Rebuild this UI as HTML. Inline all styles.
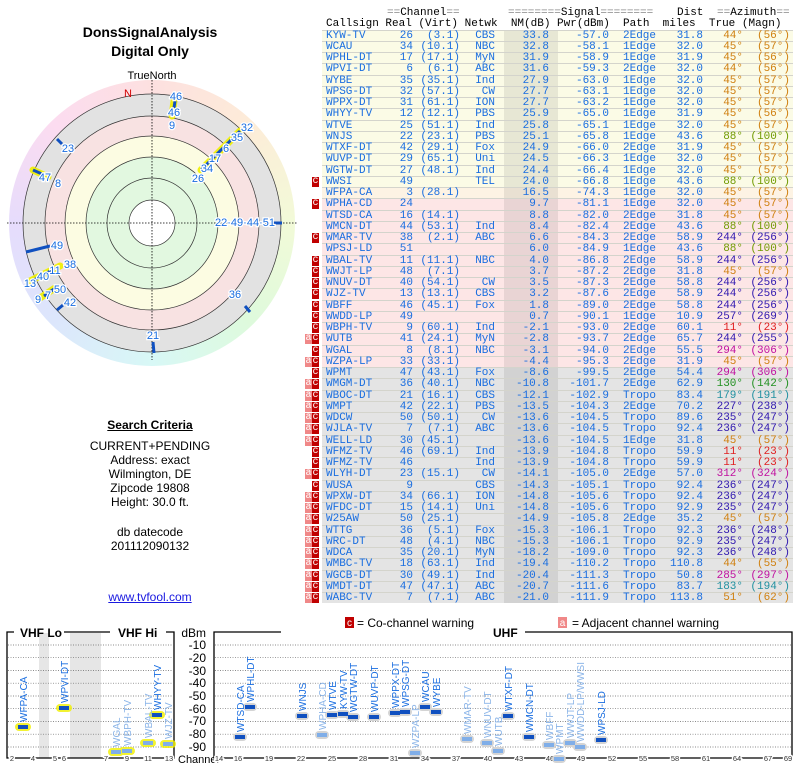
<!DOCTYPE html>
<html><head><meta charset="utf-8"><style>
body{margin:0;width:800px;height:768px;position:relative;background:#fff;overflow:hidden;font-family:"Liberation Sans",sans-serif}
.t{position:absolute;font:11px/11.25px "Liberation Mono",monospace;white-space:pre}
.r{position:absolute;left:322px;width:471px;height:11.25px;font:11px/11.25px "Liberation Mono",monospace;color:#1a6ee0;border-top:1px solid #d4d4cc;box-sizing:border-box}
.r span{position:absolute;top:0;white-space:pre}
.Y{background:#fbfbe6}.P{background:#fde6e6}.G{background:#e4e4e4}
.nmb{left:182px;width:54px;height:100%;background:rgba(0,0,0,0.08)}
.cs{left:4px}.re{left:51px;width:40px;text-align:right}.vi{left:98px;width:40px;text-align:right}
.nw{left:138px;width:35px;text-align:right}.nm{left:187px;width:40px;text-align:right}
.pw{left:237px;width:50px;text-align:right}.pa{left:301px}.di{left:336px;width:45px;text-align:right}
.tr{left:386px;width:35px;text-align:right}.mg{left:421px;width:47px;text-align:right}
.C{left:-10px;width:7px;height:10px;background:#c00000;color:#fff;text-align:center;font-size:10px;line-height:10px}
.A{left:-17px;width:7px;height:10px;background:#f08888;color:#fff;text-align:center;font-size:10px;line-height:10px}
.o{color:#d08010}.g{color:#709a00}.b{color:#3018b0}.rd{color:#e02020}.m{color:#c010a0}.gr{color:#209020}.tl{color:#2090a0}.pu{color:#8020c0}
.lt{position:absolute;width:300px;left:0;text-align:center;font-size:12px;color:#000}
</style></head><body>
<div style="position:absolute;left:9px;top:80px;width:286px;height:286px;border-radius:50%;background:conic-gradient(#fde0e0,#fdecd8 45deg,#f2fad8 90deg,#defadc 135deg,#d8f8f6 180deg,#dce6fc 225deg,#e6dcfc 270deg,#fcdcf0 315deg,#fde0e0)"></div>
<svg style="position:absolute;left:0;top:0" width="800" height="768" font-family="Liberation Sans, sans-serif">
<g stroke="#333" stroke-width="0.7">
<circle cx="152" cy="223" r="129" fill="#e2e2e2"/>
<circle cx="152" cy="223" r="107" fill="#f8e2e2"/>
<circle cx="152" cy="223" r="87" fill="#fcfce2"/>
<circle cx="152" cy="223" r="66" fill="#e2f8e0"/>
<circle cx="152" cy="223" r="45" fill="#e2f8e0"/>
<circle cx="152" cy="223" r="23" fill="#fff"/>
</g>
<g stroke="#000" stroke-width="0.8" stroke-dasharray="1.5,1.5">
<line x1="7" y1="223" x2="297" y2="223"/><line x1="152" y1="80" x2="152" y2="360"/>
</g>
<text x="152" y="79" font-size="11" text-anchor="middle">TrueNorth</text>
<text x="128" y="97" font-size="11" fill="#d00000" text-anchor="middle">N</text>
<g stroke="#f0f000" stroke-width="7" stroke-linecap="round" opacity="0.9">
<line x1="201" y1="170" x2="240" y2="131"/><line x1="174" y1="101" x2="172" y2="116"/>
<line x1="33" y1="170" x2="48" y2="177"/><line x1="30" y1="281" x2="60" y2="266"/><line x1="40" y1="298" x2="55" y2="288"/>
</g>
<g stroke="#1050c0" stroke-width="3">
<line x1="201" y1="170" x2="240" y2="131"/><line x1="175" y1="101" x2="174" y2="108"/><line x1="172" y1="112" x2="171" y2="116"/>
<line x1="57" y1="139" x2="62" y2="144"/><line x1="33" y1="170" x2="42" y2="174"/><line x1="26" y1="252" x2="50" y2="246"/>
<line x1="245" y1="306" x2="250" y2="312"/><line x1="153" y1="342" x2="154" y2="353"/><line x1="272" y1="223" x2="282" y2="223"/>
<line x1="57" y1="310" x2="63" y2="305"/><line x1="34" y1="280" x2="58" y2="267"/><line x1="44" y1="296" x2="54" y2="289"/>
</g>
<g font-size="11" fill="#1a6ee0" text-anchor="middle" stroke="#fff" stroke-width="2.5" paint-order="stroke">
<text x="176" y="100">46</text><text x="174" y="116">46</text><text x="172" y="129">9</text>
<text x="247" y="131">32</text><text x="237" y="141">35</text><text x="226" y="152">6</text><text x="215" y="162">17</text>
<text x="207" y="172">34</text><text x="198" y="182">26</text><text x="68" y="152">23</text><text x="45" y="181">47</text>
<text x="58" y="187">8</text><text x="245" y="226">22·49·44·51</text><text x="57" y="249">49</text><text x="70" y="268">38</text>
<text x="55" y="274">11</text><text x="43" y="280">40</text><text x="30" y="287">13</text><text x="60" y="293">50</text>
<text x="48" y="299">7</text><text x="38" y="303">9</text><text x="70" y="306">42</text><text x="235" y="298">36</text><text x="153" y="339">21</text>
</g>
<!-- bottom legend -->
<rect x="345" y="617" width="9" height="11" fill="#c00000"/><text x="349.5" y="626" font-size="10" fill="#fff" text-anchor="middle">c</text>
<text x="357" y="627" font-size="12">= Co-channel warning</text>
<rect x="558" y="617" width="9" height="11" fill="#f08888"/><text x="562.5" y="626" font-size="10" fill="#fff" text-anchor="middle">a</text>
<text x="572" y="627" font-size="12">= Adjacent channel warning</text>
<!-- VHF box -->
<rect x="39" y="633" width="10" height="125" fill="#e6e6e6"/><rect x="70" y="633" width="31" height="125" fill="#e6e6e6"/>
<g stroke="#666" stroke-width="0.7" stroke-dasharray="1,1.5">
<line x1="8" x2="173" y1="645" y2="645"/><line x1="8" x2="173" y1="657.7" y2="657.7"/><line x1="8" x2="173" y1="670.5" y2="670.5"/><line x1="8" x2="173" y1="683.2" y2="683.2"/><line x1="8" x2="173" y1="696" y2="696"/><line x1="8" x2="173" y1="708.7" y2="708.7"/><line x1="8" x2="173" y1="721.5" y2="721.5"/><line x1="8" x2="173" y1="734.2" y2="734.2"/><line x1="8" x2="173" y1="747" y2="747"/>
<line x1="215" x2="791" y1="645" y2="645"/><line x1="215" x2="791" y1="657.7" y2="657.7"/><line x1="215" x2="791" y1="670.5" y2="670.5"/><line x1="215" x2="791" y1="683.2" y2="683.2"/><line x1="215" x2="791" y1="696" y2="696"/><line x1="215" x2="791" y1="708.7" y2="708.7"/><line x1="215" x2="791" y1="721.5" y2="721.5"/><line x1="215" x2="791" y1="734.2" y2="734.2"/><line x1="215" x2="791" y1="747" y2="747"/>
</g>
<g fill="none" stroke="#000" stroke-width="1.3">
<polyline points="14,632 7,632 7,758 174,758 174,632 166,632"/><line x1="64" y1="632" x2="110" y2="632"/>
<polyline points="281,632 214,632 214,758 792,758 792,632 525,632"/>
</g>
<text x="20" y="637" font-size="12" font-weight="bold">VHF Lo</text><text x="118" y="637" font-size="12" font-weight="bold">VHF Hi</text>
<text x="493" y="637" font-size="12" font-weight="bold">UHF</text>
<g font-size="12" text-anchor="end"><text x="206" y="637">dBm</text><text x="206" y="649">-10</text><text x="206" y="662">-20</text><text x="206" y="675">-30</text><text x="206" y="687">-40</text><text x="206" y="700">-50</text><text x="206" y="713">-60</text><text x="206" y="725">-70</text><text x="206" y="738">-80</text><text x="206" y="751">-90</text></g>
<text x="178" y="763" font-size="11">Channel</text>
<g font-size="7.5" fill="#333" text-anchor="middle" stroke="#fff" stroke-width="3" paint-order="stroke">
<text x="12" y="761">2</text><text x="33" y="761">4</text><text x="55" y="761">5</text><text x="64" y="761">6</text><text x="106" y="761">7</text><text x="127" y="761">9</text><text x="148" y="761">11</text><text x="169" y="761">13</text>
<text x="219" y="761">14</text><text x="238" y="761">16</text><text x="269" y="761">19</text><text x="301" y="761">22</text><text x="332" y="761">25</text><text x="363" y="761">28</text><text x="394" y="761">31</text><text x="425" y="761">34</text><text x="456" y="761">37</text><text x="488" y="761">40</text><text x="519" y="761">43</text><text x="550" y="761">46</text><text x="581" y="761">49</text><text x="612" y="761">52</text><text x="643" y="761">55</text><text x="675" y="761">58</text><text x="706" y="761">61</text><text x="737" y="761">64</text><text x="768" y="761">67</text><text x="788" y="761">69</text>
</g>
<!-- VHF bars -->
<g stroke="#f0f000" stroke-width="8" stroke-linecap="round" opacity="0.8">
<line x1="19" x2="27" y1="727" y2="727"/><line x1="60" x2="68" y1="708" y2="708"/><line x1="112" x2="120" y1="752" y2="752"/><line x1="123" x2="131" y1="751" y2="751"/><line x1="144" x2="152" y1="743" y2="743"/><line x1="153" x2="161" y1="715" y2="715"/><line x1="164" x2="172" y1="744" y2="744"/>
</g>
<g stroke-width="4">
<line x1="18" x2="28" y1="727" y2="727" stroke="#1050c0"/><line x1="59" x2="69" y1="708" y2="708" stroke="#1050c0"/><line x1="111" x2="121" y1="752" y2="752" stroke="#80aee8"/><line x1="122" x2="132" y1="751" y2="751" stroke="#80aee8"/><line x1="143" x2="153" y1="743" y2="743" stroke="#80aee8"/><line x1="152" x2="162" y1="715" y2="715" stroke="#1050c0"/><line x1="163" x2="173" y1="744" y2="744" stroke="#80aee8"/>
</g>
<g font-size="10">
<text transform="translate(27,722) rotate(-90)" fill="#1a6ee0">WFPA-CA</text>
<text transform="translate(68,703) rotate(-90)" fill="#1a6ee0">WPVI-DT</text>
<text transform="translate(120,747) rotate(-90)" fill="#8ab4e8">WGAL</text>
<text transform="translate(131,746) rotate(-90)" fill="#8ab4e8">WBPH-TV</text>
<text transform="translate(152,738) rotate(-90)" fill="#8ab4e8">WBAL-TV</text>
<text transform="translate(161,710) rotate(-90)" fill="#1a6ee0">WHYY-TV</text>
<text transform="translate(172,739) rotate(-90)" fill="#8ab4e8">WJZ-TV</text>
</g>
<!-- UHF bars -->
<g stroke="#d4d4d4" stroke-width="8" stroke-linecap="round">
<line x1="237" x2="243" y1="737" y2="737"/><line x1="247" x2="253" y1="707" y2="707"/><line x1="299" x2="305" y1="716" y2="716"/><line x1="319" x2="325" y1="735" y2="735"/><line x1="329" x2="335" y1="715" y2="715"/><line x1="340" x2="346" y1="714" y2="714"/><line x1="350" x2="356" y1="717" y2="717"/><line x1="371" x2="377" y1="717" y2="717"/><line x1="392" x2="398" y1="713" y2="713"/><line x1="402" x2="408" y1="712" y2="712"/><line x1="412" x2="418" y1="753" y2="753"/><line x1="422" x2="428" y1="707" y2="707"/><line x1="433" x2="439" y1="712" y2="712"/><line x1="464" x2="470" y1="739" y2="739"/><line x1="484" x2="490" y1="743" y2="743"/><line x1="495" x2="501" y1="751" y2="751"/><line x1="505" x2="511" y1="716" y2="716"/><line x1="526" x2="532" y1="737" y2="737"/><line x1="546" x2="552" y1="745" y2="745"/><line x1="556" x2="562" y1="759" y2="759"/><line x1="567" x2="573" y1="743" y2="743"/><line x1="577" x2="583" y1="747" y2="747"/><line x1="598" x2="604" y1="740" y2="740"/>
</g>
<g stroke-width="4">
<g stroke="#1050c0"><line x1="235" x2="245" y1="737" y2="737"/><line x1="245" x2="255" y1="707" y2="707"/><line x1="297" x2="307" y1="716" y2="716"/><line x1="327" x2="337" y1="715" y2="715"/><line x1="338" x2="348" y1="714" y2="714"/><line x1="348" x2="358" y1="717" y2="717"/><line x1="369" x2="379" y1="717" y2="717"/><line x1="390" x2="400" y1="713" y2="713"/><line x1="400" x2="410" y1="712" y2="712"/><line x1="420" x2="430" y1="707" y2="707"/><line x1="431" x2="441" y1="712" y2="712"/><line x1="503" x2="513" y1="716" y2="716"/><line x1="524" x2="534" y1="737" y2="737"/><line x1="596" x2="606" y1="740" y2="740"/></g>
<g stroke="#80aee8"><line x1="317" x2="327" y1="735" y2="735"/><line x1="410" x2="420" y1="753" y2="753"/><line x1="462" x2="472" y1="739" y2="739"/><line x1="482" x2="492" y1="743" y2="743"/><line x1="493" x2="503" y1="751" y2="751"/><line x1="544" x2="554" y1="745" y2="745"/><line x1="554" x2="564" y1="759" y2="759"/><line x1="565" x2="575" y1="743" y2="743"/><line x1="575" x2="585" y1="747" y2="747"/></g>
</g>
<g font-size="10" fill="#1a6ee0">
<text transform="translate(244,732) rotate(-90)">WTSD-CA</text>
<text transform="translate(254,702) rotate(-90)">WPHL-DT</text>
<text transform="translate(306,711) rotate(-90)">WNJS</text>
<text transform="translate(336,710) rotate(-90)">WTVE</text>
<text transform="translate(347,709) rotate(-90)">KYW-TV</text>
<text transform="translate(357,712) rotate(-90)">WGTW-DT</text>
<text transform="translate(378,712) rotate(-90)">WUVP-DT</text>
<text transform="translate(399,708) rotate(-90)">WPPX-DT</text>
<text transform="translate(409,707) rotate(-90)">WPSG-DT</text>
<text transform="translate(429,702) rotate(-90)">WCAU</text>
<text transform="translate(440,707) rotate(-90)">WYBE</text>
<text transform="translate(512,711) rotate(-90)">WTXF-DT</text>
<text transform="translate(533,732) rotate(-90)">WMCN-DT</text>
<text transform="translate(605,735) rotate(-90)">WPSJ-LD</text>
</g>
<g font-size="10" fill="#8ab4e8">
<text transform="translate(326,730) rotate(-90)">WPHA-CD</text>
<text transform="translate(419,748) rotate(-90)">WZPA-LP</text>
<text transform="translate(471,734) rotate(-90)">WMAR-TV</text>
<text transform="translate(491,738) rotate(-90)">WNUV-DT</text>
<text transform="translate(502,746) rotate(-90)">WUTB</text>
<text transform="translate(553,740) rotate(-90)">WBFF</text>
<text transform="translate(563,754) rotate(-90)">WPMT</text>
<text transform="translate(574,738) rotate(-90)">WWJT-LP</text>
<text transform="translate(584,742) rotate(-90)">WWDD-LP/WWSI</text>
</g>
</svg>

<div class="lt" style="top:24px;font-size:14px;font-weight:bold">DonsSignalAnalysis</div>
<div class="lt" style="top:43px;font-size:14px;font-weight:bold">Digital Only</div>
<div class="lt" style="top:418px;font-weight:bold;text-decoration:underline">Search Criteria</div>
<div class="lt" style="top:439px;line-height:14px">CURRENT+PENDING<br>Address: exact<br>Wilmington, DE<br>Zipcode 19808<br>Height: 30.0 ft.</div>
<div class="lt" style="top:525px;line-height:14px">db datecode<br>201112090132</div>
<div class="lt" style="top:590px;color:#1a1ae0;text-decoration:underline">www.tvfool.com</div>

<div class="t" style="left:387px;top:8px;color:#888">==<span style="color:#000">Channel</span>==</div>
<div class="t" style="left:508px;top:8px;color:#888">========<span style="color:#000">Signal</span>========</div>
<div class="t" style="left:677px;top:8px">Dist</div>
<div class="t" style="left:717px;top:8px;color:#888">==<span style="color:#000">Azimuth</span>==</div>
<div class="t" style="left:326px;top:19px;border-bottom:1px solid #000">Callsign Real (Virt) Netwk  NM(dB) Pwr(dBm)  Path  miles  True (Magn)</div>

<div class="r Y" style="top:29.5px"><span class="nmb"></span><span class="cs">KYW-TV</span><span class="re">26</span><span class="vi">(3.1)</span><span class="nw">CBS</span><span class="nm">33.8</span><span class="pw">-57.0</span><span class="pa">2Edge</span><span class="di">31.8</span><span class="tr o">44°</span><span class="mg o">(56°)</span></div>
<div class="r Y" style="top:40.75px"><span class="nmb"></span><span class="cs">WCAU</span><span class="re">34</span><span class="vi">(10.1)</span><span class="nw">NBC</span><span class="nm">32.8</span><span class="pw">-58.1</span><span class="pa">1Edge</span><span class="di">32.0</span><span class="tr o">45°</span><span class="mg o">(57°)</span></div>
<div class="r Y" style="top:52px"><span class="nmb"></span><span class="cs">WPHL-DT</span><span class="re">17</span><span class="vi">(17.1)</span><span class="nw">MyN</span><span class="nm">31.9</span><span class="pw">-58.9</span><span class="pa">1Edge</span><span class="di">31.9</span><span class="tr o">45°</span><span class="mg o">(56°)</span></div>
<div class="r Y" style="top:63.25px"><span class="nmb"></span><span class="cs">WPVI-DT</span><span class="re">6</span><span class="vi">(6.1)</span><span class="nw">ABC</span><span class="nm">31.6</span><span class="pw">-59.3</span><span class="pa">2Edge</span><span class="di">32.0</span><span class="tr o">44°</span><span class="mg o">(56°)</span></div>
<div class="r Y" style="top:74.5px"><span class="nmb"></span><span class="cs">WYBE</span><span class="re">35</span><span class="vi">(35.1)</span><span class="nw">Ind</span><span class="nm">27.9</span><span class="pw">-63.0</span><span class="pa">1Edge</span><span class="di">32.0</span><span class="tr o">45°</span><span class="mg o">(57°)</span></div>
<div class="r Y" style="top:85.75px"><span class="nmb"></span><span class="cs">WPSG-DT</span><span class="re">32</span><span class="vi">(57.1)</span><span class="nw">CW</span><span class="nm">27.7</span><span class="pw">-63.1</span><span class="pa">1Edge</span><span class="di">32.0</span><span class="tr o">45°</span><span class="mg o">(57°)</span></div>
<div class="r Y" style="top:97px"><span class="nmb"></span><span class="cs">WPPX-DT</span><span class="re">31</span><span class="vi">(61.1)</span><span class="nw">ION</span><span class="nm">27.7</span><span class="pw">-63.2</span><span class="pa">1Edge</span><span class="di">32.0</span><span class="tr o">45°</span><span class="mg o">(57°)</span></div>
<div class="r Y" style="top:108.25px"><span class="nmb"></span><span class="cs">WHYY-TV</span><span class="re">12</span><span class="vi">(12.1)</span><span class="nw">PBS</span><span class="nm">25.9</span><span class="pw">-65.0</span><span class="pa">1Edge</span><span class="di">31.9</span><span class="tr o">45°</span><span class="mg o">(56°)</span></div>
<div class="r Y" style="top:119.5px"><span class="nmb"></span><span class="cs">WTVE</span><span class="re">25</span><span class="vi">(51.1)</span><span class="nw">Ind</span><span class="nm">25.8</span><span class="pw">-65.1</span><span class="pa">1Edge</span><span class="di">32.0</span><span class="tr o">45°</span><span class="mg o">(57°)</span></div>
<div class="r Y" style="top:130.75px"><span class="nmb"></span><span class="cs">WNJS</span><span class="re">22</span><span class="vi">(23.1)</span><span class="nw">PBS</span><span class="nm">25.1</span><span class="pw">-65.8</span><span class="pa">1Edge</span><span class="di">43.6</span><span class="tr g">88°</span><span class="mg g">(100°)</span></div>
<div class="r Y" style="top:142px"><span class="nmb"></span><span class="cs">WTXF-DT</span><span class="re">42</span><span class="vi">(29.1)</span><span class="nw">Fox</span><span class="nm">24.9</span><span class="pw">-66.0</span><span class="pa">2Edge</span><span class="di">31.9</span><span class="tr o">45°</span><span class="mg o">(57°)</span></div>
<div class="r Y" style="top:153.25px"><span class="nmb"></span><span class="cs">WUVP-DT</span><span class="re">29</span><span class="vi">(65.1)</span><span class="nw">Uni</span><span class="nm">24.5</span><span class="pw">-66.3</span><span class="pa">1Edge</span><span class="di">32.0</span><span class="tr o">45°</span><span class="mg o">(57°)</span></div>
<div class="r Y" style="top:164.5px"><span class="nmb"></span><span class="cs">WGTW-DT</span><span class="re">27</span><span class="vi">(48.1)</span><span class="nw">Ind</span><span class="nm">24.4</span><span class="pw">-66.4</span><span class="pa">1Edge</span><span class="di">32.0</span><span class="tr o">45°</span><span class="mg o">(57°)</span></div>
<div class="r Y" style="top:175.75px"><span class="C">c</span><span class="nmb"></span><span class="cs">WWSI</span><span class="re">49</span><span class="nw">TEL</span><span class="nm">24.0</span><span class="pw">-66.8</span><span class="pa">1Edge</span><span class="di">43.6</span><span class="tr g">88°</span><span class="mg g">(100°)</span></div>
<div class="r Y" style="top:187px;background:#fdf3e4"><span class="nmb"></span><span class="cs">WFPA-CA</span><span class="re">3</span><span class="vi">(28.1)</span><span class="nm">16.5</span><span class="pw">-74.3</span><span class="pa">1Edge</span><span class="di">32.0</span><span class="tr o">45°</span><span class="mg o">(57°)</span></div>
<div class="r P" style="top:198.25px"><span class="C">c</span><span class="nmb"></span><span class="cs">WPHA-CD</span><span class="re">24</span><span class="nm">9.7</span><span class="pw">-81.1</span><span class="pa">1Edge</span><span class="di">32.0</span><span class="tr o">45°</span><span class="mg o">(57°)</span></div>
<div class="r P" style="top:209.5px"><span class="nmb"></span><span class="cs">WTSD-CA</span><span class="re">16</span><span class="vi">(14.1)</span><span class="nm">8.8</span><span class="pw">-82.0</span><span class="pa">2Edge</span><span class="di">31.8</span><span class="tr o">45°</span><span class="mg o">(57°)</span></div>
<div class="r P" style="top:220.75px"><span class="nmb"></span><span class="cs">WMCN-DT</span><span class="re">44</span><span class="vi">(53.1)</span><span class="nw">Ind</span><span class="nm">8.4</span><span class="pw">-82.4</span><span class="pa">2Edge</span><span class="di">43.6</span><span class="tr g">88°</span><span class="mg g">(100°)</span></div>
<div class="r P" style="top:232px"><span class="C">c</span><span class="nmb"></span><span class="cs">WMAR-TV</span><span class="re">38</span><span class="vi">(2.1)</span><span class="nw">ABC</span><span class="nm">6.6</span><span class="pw">-84.3</span><span class="pa">2Edge</span><span class="di">58.9</span><span class="tr b">244°</span><span class="mg b">(256°)</span></div>
<div class="r P" style="top:243.25px"><span class="nmb"></span><span class="cs">WPSJ-LD</span><span class="re">51</span><span class="nm">6.0</span><span class="pw">-84.9</span><span class="pa">1Edge</span><span class="di">43.6</span><span class="tr g">88°</span><span class="mg g">(100°)</span></div>
<div class="r P" style="top:254.5px"><span class="C">c</span><span class="nmb"></span><span class="cs">WBAL-TV</span><span class="re">11</span><span class="vi">(11.1)</span><span class="nw">NBC</span><span class="nm">4.0</span><span class="pw">-86.8</span><span class="pa">2Edge</span><span class="di">58.9</span><span class="tr b">244°</span><span class="mg b">(256°)</span></div>
<div class="r P" style="top:265.75px"><span class="C">c</span><span class="nmb"></span><span class="cs">WWJT-LP</span><span class="re">48</span><span class="vi">(7.1)</span><span class="nm">3.7</span><span class="pw">-87.2</span><span class="pa">2Edge</span><span class="di">31.8</span><span class="tr o">45°</span><span class="mg o">(57°)</span></div>
<div class="r P" style="top:277px"><span class="C">c</span><span class="nmb"></span><span class="cs">WNUV-DT</span><span class="re">40</span><span class="vi">(54.1)</span><span class="nw">CW</span><span class="nm">3.5</span><span class="pw">-87.3</span><span class="pa">2Edge</span><span class="di">58.8</span><span class="tr b">244°</span><span class="mg b">(256°)</span></div>
<div class="r P" style="top:288.25px"><span class="C">c</span><span class="nmb"></span><span class="cs">WJZ-TV</span><span class="re">13</span><span class="vi">(13.1)</span><span class="nw">CBS</span><span class="nm">3.2</span><span class="pw">-87.6</span><span class="pa">2Edge</span><span class="di">58.9</span><span class="tr b">244°</span><span class="mg b">(256°)</span></div>
<div class="r P" style="top:299.5px"><span class="C">c</span><span class="nmb"></span><span class="cs">WBFF</span><span class="re">46</span><span class="vi">(45.1)</span><span class="nw">Fox</span><span class="nm">1.8</span><span class="pw">-89.0</span><span class="pa">2Edge</span><span class="di">58.8</span><span class="tr b">244°</span><span class="mg b">(256°)</span></div>
<div class="r P" style="top:310.75px"><span class="C">c</span><span class="nmb"></span><span class="cs">WWDD-LP</span><span class="re">49</span><span class="nm">0.7</span><span class="pw">-90.1</span><span class="pa">1Edge</span><span class="di">10.9</span><span class="tr b">257°</span><span class="mg b">(269°)</span></div>
<div class="r P" style="top:322px"><span class="C">c</span><span class="nmb"></span><span class="cs">WBPH-TV</span><span class="re">9</span><span class="vi">(60.1)</span><span class="nw">Ind</span><span class="nm">-2.1</span><span class="pw">-93.0</span><span class="pa">2Edge</span><span class="di">60.1</span><span class="tr rd">11°</span><span class="mg rd">(23°)</span></div>
<div class="r P" style="top:333.25px"><span class="A">a</span><span class="C">c</span><span class="nmb"></span><span class="cs">WUTB</span><span class="re">41</span><span class="vi">(24.1)</span><span class="nw">MyN</span><span class="nm">-2.8</span><span class="pw">-93.7</span><span class="pa">2Edge</span><span class="di">65.7</span><span class="tr b">244°</span><span class="mg b">(255°)</span></div>
<div class="r P" style="top:344.5px"><span class="C">c</span><span class="nmb"></span><span class="cs">WGAL</span><span class="re">8</span><span class="vi">(8.1)</span><span class="nw">NBC</span><span class="nm">-3.1</span><span class="pw">-94.0</span><span class="pa">2Edge</span><span class="di">55.5</span><span class="tr m">294°</span><span class="mg m">(306°)</span></div>
<div class="r P" style="top:355.75px"><span class="A">a</span><span class="C">c</span><span class="nmb"></span><span class="cs">WZPA-LP</span><span class="re">33</span><span class="vi">(33.1)</span><span class="nm">-4.4</span><span class="pw">-95.3</span><span class="pa">2Edge</span><span class="di">31.9</span><span class="tr o">45°</span><span class="mg o">(57°)</span></div>
<div class="r G" style="top:367px"><span class="C">c</span><span class="nmb"></span><span class="cs">WPMT</span><span class="re">47</span><span class="vi">(43.1)</span><span class="nw">Fox</span><span class="nm">-8.6</span><span class="pw">-99.5</span><span class="pa">2Edge</span><span class="di">54.4</span><span class="tr m">294°</span><span class="mg m">(306°)</span></div>
<div class="r G" style="top:378.25px"><span class="A">a</span><span class="C">c</span><span class="nmb"></span><span class="cs">WMGM-DT</span><span class="re">36</span><span class="vi">(40.1)</span><span class="nw">NBC</span><span class="nm">-10.8</span><span class="pw">-101.7</span><span class="pa">2Edge</span><span class="di">62.9</span><span class="tr gr">130°</span><span class="mg gr">(142°)</span></div>
<div class="r G" style="top:389.5px"><span class="A">a</span><span class="C">c</span><span class="nmb"></span><span class="cs">WBOC-DT</span><span class="re">21</span><span class="vi">(16.1)</span><span class="nw">CBS</span><span class="nm">-12.1</span><span class="pw">-102.9</span><span class="pa">Tropo</span><span class="di">83.4</span><span class="tr tl">179°</span><span class="mg tl">(191°)</span></div>
<div class="r G" style="top:400.75px"><span class="A">a</span><span class="C">c</span><span class="nmb"></span><span class="cs">WMPT</span><span class="re">42</span><span class="vi">(22.1)</span><span class="nw">PBS</span><span class="nm">-13.5</span><span class="pw">-104.3</span><span class="pa">2Edge</span><span class="di">70.2</span><span class="tr b">227°</span><span class="mg b">(238°)</span></div>
<div class="r G" style="top:412px"><span class="A">a</span><span class="C">c</span><span class="nmb"></span><span class="cs">WDCW</span><span class="re">50</span><span class="vi">(50.1)</span><span class="nw">CW</span><span class="nm">-13.6</span><span class="pw">-104.5</span><span class="pa">Tropo</span><span class="di">89.6</span><span class="tr b">235°</span><span class="mg b">(247°)</span></div>
<div class="r G" style="top:423.25px"><span class="A">a</span><span class="C">c</span><span class="nmb"></span><span class="cs">WJLA-TV</span><span class="re">7</span><span class="vi">(7.1)</span><span class="nw">ABC</span><span class="nm">-13.6</span><span class="pw">-104.5</span><span class="pa">Tropo</span><span class="di">92.4</span><span class="tr b">236°</span><span class="mg b">(247°)</span></div>
<div class="r G" style="top:434.5px"><span class="A">a</span><span class="C">c</span><span class="nmb"></span><span class="cs">WELL-LD</span><span class="re">30</span><span class="vi">(45.1)</span><span class="nm">-13.6</span><span class="pw">-104.5</span><span class="pa">1Edge</span><span class="di">31.8</span><span class="tr o">45°</span><span class="mg o">(57°)</span></div>
<div class="r G" style="top:445.75px"><span class="C">c</span><span class="nmb"></span><span class="cs">WFMZ-TV</span><span class="re">46</span><span class="vi">(69.1)</span><span class="nw">Ind</span><span class="nm">-13.9</span><span class="pw">-104.8</span><span class="pa">Tropo</span><span class="di">59.9</span><span class="tr rd">11°</span><span class="mg rd">(23°)</span></div>
<div class="r G" style="top:457px"><span class="C">c</span><span class="nmb"></span><span class="cs">WFMZ-TV</span><span class="re">46</span><span class="nw">Ind</span><span class="nm">-13.9</span><span class="pw">-104.8</span><span class="pa">Tropo</span><span class="di">59.9</span><span class="tr rd">11°</span><span class="mg rd">(23°)</span></div>
<div class="r G" style="top:468.25px"><span class="A">a</span><span class="C">c</span><span class="nmb"></span><span class="cs">WLYH-DT</span><span class="re">23</span><span class="vi">(15.1)</span><span class="nw">CW</span><span class="nm">-14.1</span><span class="pw">-105.0</span><span class="pa">2Edge</span><span class="di">57.0</span><span class="tr m">312°</span><span class="mg m">(324°)</span></div>
<div class="r G" style="top:479.5px"><span class="C">c</span><span class="nmb"></span><span class="cs">WUSA</span><span class="re">9</span><span class="nw">CBS</span><span class="nm">-14.3</span><span class="pw">-105.1</span><span class="pa">Tropo</span><span class="di">92.4</span><span class="tr b">236°</span><span class="mg b">(247°)</span></div>
<div class="r G" style="top:490.75px"><span class="A">a</span><span class="C">c</span><span class="nmb"></span><span class="cs">WPXW-DT</span><span class="re">34</span><span class="vi">(66.1)</span><span class="nw">ION</span><span class="nm">-14.8</span><span class="pw">-105.6</span><span class="pa">Tropo</span><span class="di">92.4</span><span class="tr b">236°</span><span class="mg b">(247°)</span></div>
<div class="r G" style="top:502px"><span class="A">a</span><span class="C">c</span><span class="nmb"></span><span class="cs">WFDC-DT</span><span class="re">15</span><span class="vi">(14.1)</span><span class="nw">Uni</span><span class="nm">-14.8</span><span class="pw">-105.6</span><span class="pa">Tropo</span><span class="di">92.9</span><span class="tr b">235°</span><span class="mg b">(247°)</span></div>
<div class="r G" style="top:513.25px"><span class="A">a</span><span class="C">c</span><span class="nmb"></span><span class="cs">W25AW</span><span class="re">50</span><span class="vi">(25.1)</span><span class="nm">-14.9</span><span class="pw">-105.8</span><span class="pa">2Edge</span><span class="di">35.2</span><span class="tr o">45°</span><span class="mg o">(57°)</span></div>
<div class="r G" style="top:524.5px"><span class="A">a</span><span class="C">c</span><span class="nmb"></span><span class="cs">WTTG</span><span class="re">36</span><span class="vi">(5.1)</span><span class="nw">Fox</span><span class="nm">-15.3</span><span class="pw">-106.1</span><span class="pa">Tropo</span><span class="di">92.3</span><span class="tr b">236°</span><span class="mg b">(248°)</span></div>
<div class="r G" style="top:535.75px"><span class="A">a</span><span class="C">c</span><span class="nmb"></span><span class="cs">WRC-DT</span><span class="re">48</span><span class="vi">(4.1)</span><span class="nw">NBC</span><span class="nm">-15.3</span><span class="pw">-106.1</span><span class="pa">Tropo</span><span class="di">92.9</span><span class="tr b">235°</span><span class="mg b">(247°)</span></div>
<div class="r G" style="top:547px"><span class="A">a</span><span class="C">c</span><span class="nmb"></span><span class="cs">WDCA</span><span class="re">35</span><span class="vi">(20.1)</span><span class="nw">MyN</span><span class="nm">-18.2</span><span class="pw">-109.0</span><span class="pa">Tropo</span><span class="di">92.3</span><span class="tr b">236°</span><span class="mg b">(248°)</span></div>
<div class="r G" style="top:558.25px"><span class="A">a</span><span class="C">c</span><span class="nmb"></span><span class="cs">WMBC-TV</span><span class="re">18</span><span class="vi">(63.1)</span><span class="nw">Ind</span><span class="nm">-19.4</span><span class="pw">-110.2</span><span class="pa">Tropo</span><span class="di">110.8</span><span class="tr o">44°</span><span class="mg o">(55°)</span></div>
<div class="r G" style="top:569.5px"><span class="A">a</span><span class="C">c</span><span class="nmb"></span><span class="cs">WGCB-DT</span><span class="re">30</span><span class="vi">(49.1)</span><span class="nw">Ind</span><span class="nm">-20.4</span><span class="pw">-111.3</span><span class="pa">Tropo</span><span class="di">50.8</span><span class="tr m">285°</span><span class="mg m">(297°)</span></div>
<div class="r G" style="top:580.75px"><span class="A">a</span><span class="C">c</span><span class="nmb"></span><span class="cs">WMDT-DT</span><span class="re">47</span><span class="vi">(47.1)</span><span class="nw">ABC</span><span class="nm">-20.7</span><span class="pw">-111.6</span><span class="pa">Tropo</span><span class="di">83.7</span><span class="tr tl">183°</span><span class="mg tl">(194°)</span></div>
<div class="r G" style="top:592px"><span class="A">a</span><span class="C">c</span><span class="nmb"></span><span class="cs">WABC-TV</span><span class="re">7</span><span class="vi">(7.1)</span><span class="nw">ABC</span><span class="nm">-21.0</span><span class="pw">-111.9</span><span class="pa">Tropo</span><span class="di">113.8</span><span class="tr o">51°</span><span class="mg o">(62°)</span></div>
</body></html>
